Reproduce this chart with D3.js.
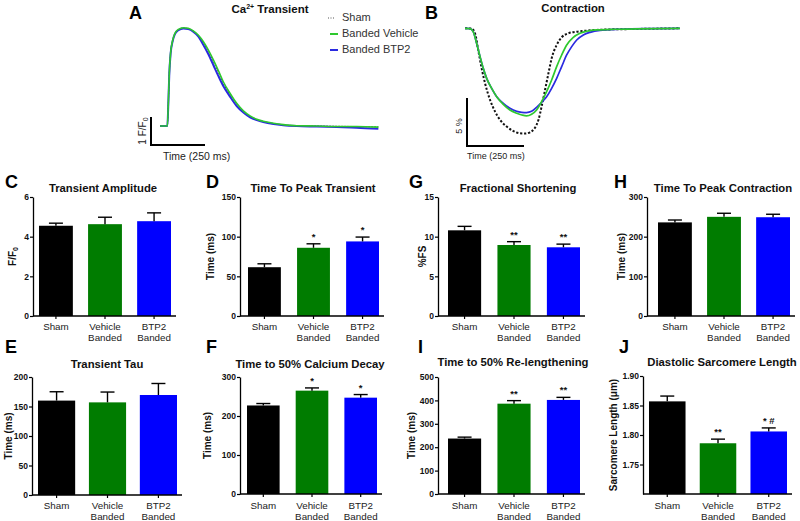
<!DOCTYPE html>
<html><head><meta charset="utf-8">
<script src="https://cdn.jsdelivr.net/npm/d3@7"></script>
<style>
body{margin:0;background:#fff}
svg{display:block}
text{font-family:"Liberation Sans",Arial,Helvetica,sans-serif}
</style>
</head><body>
<svg id="chart" width="800" height="521"></svg>
<script>
// ---------------- DATA ----------------
const groups = ["Sham", "Vehicle", "BTP2"];
const groupSub = ["", "Banded", "Banded"];
const barColors = ["#000000", "#007c00", "#0000ff"];

// C Transient Amplitude (F/F0)
const ampMean = [4.55, 4.63, 4.78];
const ampSem  = [0.13, 0.35, 0.42];
const ampTicks = [0, 2, 4, 6];
const ampNotes = ["", "", ""];
// D Time To Peak Transient (ms)
const ttpMean = [61.5, 86, 94];
const ttpSem  = [4.3, 5, 5.5];
const ttpTicks = [0, 50, 100, 150];
const ttpNotes = ["", "*", "*"];
// G Fractional Shortening (%FS)
const fsMean = [10.8, 8.95, 8.66];
const fsSem  = [0.5, 0.42, 0.4];
const fsTicks = [0, 5, 10, 15];
const fsNotes = ["", "**", "**"];
// H Time To Peak Contraction (ms)
const ttpcMean = [236, 250, 249];
const ttpcSem  = [6, 9, 7.5];
const ttpcTicks = [0, 100, 200, 300];
const ttpcNotes = ["", "", ""];
// E Transient Tau (ms)
const tauMean = [160, 157, 169.5];
const tauSem  = [15, 17.5, 19.5];
const tauTicks = [0, 50, 100, 150, 200];
const tauNotes = ["", "", ""];
// F Time to 50% Calcium Decay (ms)
const decMean = [227, 265, 247];
const decSem  = [5, 7, 8];
const decTicks = [0, 100, 200, 300];
const decNotes = ["", "*", "*"];
// I Time to 50% Re-lengthening (ms)
const relMean = [237, 386, 402];
const relSem  = [6, 13, 11];
const relTicks = [0, 100, 200, 300, 400, 500];
const relNotes = ["", "**", "**"];
// J Diastolic Sarcomere Length (um)
const slMean = [1.857, 1.786, 1.806];
const slSem  = [0.009, 0.007, 0.006];
const slTicks = [1.75, 1.80, 1.85, 1.90];
const slNotes = ["", "**", "* #"];

// A Ca2+ transient traces (time ms, F/F0)
const caTime    = [0,31,34,39,43,49,59,69,85,108,131,154,177,201,224,247,270,293,324,355,386,417,448,478,525,571,633,725,818,910,1011];
const caSham    = [1,1,1,1.90,2.86,3.58,4.05,4.30,4.44,4.50,4.48,4.39,4.23,3.97,3.66,3.30,2.92,2.52,2.12,1.77,1.51,1.34,1.23,1.16,1.09,1.04,1.01,1.00,0.99,0.98,0.97];
const caVehicle = [1,1,1,1.93,2.88,3.60,4.07,4.31,4.45,4.51,4.49,4.40,4.25,4.01,3.71,3.36,2.98,2.58,2.17,1.81,1.54,1.36,1.24,1.17,1.10,1.05,1.01,1.00,0.98,0.98,0.96];
const caBTP2    = [1,1,1,1.90,2.85,3.57,4.04,4.28,4.42,4.48,4.46,4.37,4.20,3.89,3.56,3.18,2.79,2.43,2.05,1.71,1.48,1.31,1.21,1.14,1.07,1.03,1.00,0.98,0.96,0.94,0.90];

// B Contraction traces (time ms, % shortening)
const ctShamT = [0,29,44,58,73,88,110,132,154,183,212,241,263,285,307,322,336,351,366,380,402,424,453,490,534,607,754,943];
const ctSham  = [0,-0.03,-0.52,-2.26,-4.17,-5.73,-7.47,-8.68,-9.55,-10.24,-10.70,-10.94,-10.97,-10.83,-10.35,-9.55,-8.16,-6.43,-4.69,-3.13,-1.74,-0.94,-0.52,-0.35,-0.24,-0.14,-0.07,0];
const ctVehT  = [0,22,36,51,66,80,95,117,139,168,197,227,249,270,292,314,336,358,380,402,424,446,475,504,534,577,651,754,943];
const ctVeh   = [0,-0.03,-0.35,-1.56,-2.95,-4.17,-5.21,-6.25,-7.12,-7.92,-8.51,-8.85,-9.03,-9.13,-8.96,-8.51,-7.64,-6.60,-5.38,-3.99,-2.78,-1.74,-0.94,-0.52,-0.31,-0.17,-0.10,-0.07,0];
const ctBtpT  = [0,22,36,51,66,80,95,117,139,168,197,227,249,270,292,314,336,358,380,402,424,446,468,490,519,548,592,680,826,943];
const ctBtp   = [0,-0.03,-0.35,-1.56,-2.95,-4.17,-5.21,-6.25,-7.12,-7.81,-8.33,-8.65,-8.75,-8.78,-8.65,-8.23,-7.71,-7.12,-6.25,-5.21,-3.99,-2.78,-1.91,-1.22,-0.70,-0.42,-0.21,-0.10,-0.03,0];

const legendLabels = ["Sham", "Banded Vehicle", "Banded BTP2"];

// ---------------- DRAW ----------------
const svg = d3.select("#chart");
const FONT = '"Liberation Sans",Arial,sans-serif';

function letter(t, x, y) {
  svg.append("text").attr("x", x).attr("y", y).attr("font-size", 18).attr("font-weight", "bold").text(t);
}

function barPanel(p, means, sems, ticks, notes) {
  const g = svg.append("g");
  const y = d3.scaleLinear().domain(p.domain).range([p.yB, p.yT]);
  const x = d3.scaleBand().domain(groups).range([p.a, p.b]).paddingInner(p.pad).paddingOuter(0);
  g.selectAll("rect.bar").data(groups).join("rect")
    .attr("x", d => x(d)).attr("width", x.bandwidth())
    .attr("y", (d, i) => y(means[i])).attr("height", (d, i) => p.yB - y(means[i]))
    .attr("fill", (d, i) => barColors[i]);
  groups.forEach((d, i) => {
    const cx = x(d) + x.bandwidth() / 2;
    const eTop = y(means[i] + sems[i]);
    g.append("line").attr("x1", cx).attr("x2", cx).attr("y1", y(means[i])).attr("y2", eTop)
      .attr("stroke", "#000").attr("stroke-width", 1.4);
    g.append("line").attr("x1", cx - 7).attr("x2", cx + 7).attr("y1", eTop).attr("y2", eTop)
      .attr("stroke", "#000").attr("stroke-width", 1.4);
    if (notes[i]) {
      g.append("text").attr("x", cx).attr("y", eTop - 4).attr("text-anchor", "middle")
        .attr("font-size", 9.5).attr("font-weight", "bold").attr("fill", "#111").text(notes[i]);
    }
  });
  const ya = g.append("g").attr("transform", `translate(${p.axisX},0)`)
    .call(d3.axisLeft(y).tickValues(ticks).tickSize(3).tickSizeOuter(0).tickFormat(p.fmt));
  ya.select(".domain").attr("stroke", "#000").attr("stroke-width", 1.3);
  ya.selectAll(".tick line").attr("stroke", "#000").attr("stroke-width", 1.2);
  ya.selectAll(".tick text").attr("font-size", 8.5).attr("font-weight", "bold").attr("font-family", FONT).attr("fill", "#111").attr("x", -4);
  const xa = g.append("g").attr("transform", `translate(0,${p.yB})`)
    .call(d3.axisBottom(x).tickSize(3).tickSizeOuter(0).tickFormat(""));
  xa.select(".domain").remove();
  xa.selectAll(".tick line").attr("stroke", "#000").attr("stroke-width", 1.2);
  g.append("line").attr("x1", p.axisX).attr("x2", p.b + 5).attr("y1", p.yB).attr("y2", p.yB)
    .attr("stroke", "#000").attr("stroke-width", 1.3);
  groups.forEach((d, i) => {
    const cx = x(d) + x.bandwidth() / 2;
    g.append("text").attr("x", cx).attr("y", p.lab1).attr("text-anchor", "middle")
      .attr("font-size", 9.8).attr("fill", "#222").text(d);
    if (groupSub[i]) g.append("text").attr("x", cx).attr("y", p.lab1 + 11).attr("text-anchor", "middle")
      .attr("font-size", 9.8).attr("fill", "#222").text(groupSub[i]);
  });
  g.append("text").attr("x", p.tx).attr("y", p.ty).attr("text-anchor", "middle")
    .attr("font-size", 11.3).attr("font-weight", "bold").attr("fill", "#111").text(p.title);
  const yl = g.append("text").attr("transform", `translate(${p.lx},${(p.yT + p.yB) / 2}) rotate(-90)`)
    .attr("text-anchor", "middle").attr("dominant-baseline", "middle")
    .attr("font-size", 10).attr("font-weight", "bold").attr("fill", "#111");
  if (p.ylabelSub) {
    yl.append("tspan").text(p.ylabel);
    yl.append("tspan").attr("font-size", 7).attr("dy", 3).text(p.ylabelSub);
  } else yl.text(p.ylabel);
  letter(p.letter, p.lxL, p.lyL);
}

const fmtInt = d3.format("d");
const rowTop = {yT: 197, yB: 316, lab1: 330, ty: 192, lyL: 188};
const rowBot = {yT: 377, yB: 494, lab1: 509, ty: 368, lyL: 353};

barPanel(Object.assign({}, rowTop, {axisX: 33, a: 39, b: 171, pad: 0.31, domain: [0, 6], fmt: fmtInt,
  title: "Transient Amplitude", tx: 103, ylabel: "F/F", ylabelSub: "0", lx: 13, letter: "C", lxL: 5}),
  ampMean, ampSem, ampTicks, ampNotes);
barPanel(Object.assign({}, rowTop, {axisX: 240, a: 248, b: 379, pad: 0.33, domain: [0, 150], fmt: fmtInt,
  title: "Time To Peak Transient", tx: 313, ylabel: "Time (ms)", lx: 211, letter: "D", lxL: 206}),
  ttpMean, ttpSem, ttpTicks, ttpNotes);
barPanel(Object.assign({}, rowTop, {axisX: 438, a: 448, b: 580, pad: 0.33, domain: [0, 15], fmt: fmtInt,
  title: "Fractional Shortening", tx: 518, ylabel: "%FS", lx: 423, letter: "G", lxL: 409}),
  fsMean, fsSem, fsTicks, fsNotes);
barPanel(Object.assign({}, rowTop, {axisX: 647, a: 658, b: 790, pad: 0.31, domain: [0, 300], fmt: fmtInt,
  title: "Time To Peak Contraction", tx: 723, ylabel: "Time (ms)", lx: 622, letter: "H", lxL: 614}),
  ttpcMean, ttpcSem, ttpcTicks, ttpcNotes);
barPanel(Object.assign({}, rowBot, {axisX: 32, a: 38, b: 177, yB: 495, pad: 0.27, domain: [0, 200], fmt: fmtInt,
  title: "Transient Tau", tx: 107, ylabel: "Time (ms)", lx: 9, letter: "E", lxL: 5}),
  tauMean, tauSem, tauTicks, tauNotes);
barPanel(Object.assign({}, rowBot, {axisX: 240, a: 247, b: 377, pad: 0.33, domain: [0, 300], fmt: fmtInt,
  title: "Time to 50% Calcium Decay", tx: 310, ylabel: "Time (ms)", lx: 208, letter: "F", lxL: 206}),
  decMean, decSem, decTicks, decNotes);
barPanel(Object.assign({}, rowBot, {axisX: 438, a: 448, b: 580, pad: 0.33, ty: 366, domain: [0, 500], fmt: fmtInt,
  title: "Time to 50% Re-lengthening", tx: 513, ylabel: "Time (ms)", lx: 412, letter: "I", lxL: 418}),
  relMean, relSem, relTicks, relNotes);
barPanel(Object.assign({}, rowBot, {axisX: 643, a: 649, b: 787, yT: 376, pad: 0.28, ty: 366, domain: [1.70, 1.90], fmt: d3.format(".2f"),
  title: "Diastolic Sarcomere Length", tx: 722, ylabel: "Sarcomere Length (μm)", lx: 614, letter: "J", lxL: 619}),
  slMean, slSem, slTicks, slNotes);

// ---------- Panel A ----------
{
  const x = d3.scaleLinear().domain([0, 1000]).range([160, 376]);
  const y = d3.scaleLinear().domain([1, 2]).range([126, 98]);
  const line = d3.line().x(d => x(d[0])).y(d => y(d[1])).curve(d3.curveMonotoneX);
  const g = svg.append("g");
  g.append("path").datum(caTime.map((t, i) => [t, caSham[i]])).attr("d", line)
    .attr("fill", "none").attr("stroke", "#333").attr("stroke-width", 1).attr("stroke-dasharray", "1.5,1.5");
  g.append("path").datum(caTime.map((t, i) => [t, caBTP2[i]])).attr("d", line)
    .attr("fill", "none").attr("stroke", "#2a2ae0").attr("stroke-width", 2);
  g.append("path").datum(caTime.map((t, i) => [t, caVehicle[i]])).attr("d", line)
    .attr("fill", "none").attr("stroke", "#2ec82e").attr("stroke-width", 1.6);
  const sx = 151, sy = 145;
  g.append("path").attr("d", `M${sx},${sy - (y(1) - y(2))}V${sy}H${sx + x(250) - x(0)}`)
    .attr("fill", "none").attr("stroke", "#000").attr("stroke-width", 2);
  const vl = g.append("text").attr("transform", `translate(${sx - 5},${sy - 14}) rotate(-90)`)
    .attr("text-anchor", "middle").attr("font-size", 10).attr("fill", "#222");
  vl.append("tspan").text("1 F/F");
  vl.append("tspan").attr("font-size", 7).attr("dy", 2).text("0");
  g.append("text").attr("x", 163).attr("y", 160).attr("font-size", 10.5).attr("fill", "#222").text("Time (250 ms)");
  const tt = g.append("text").attr("x", 270).attr("y", 13).attr("text-anchor", "middle")
    .attr("font-size", 11.5).attr("font-weight", "bold").attr("fill", "#111");
  tt.append("tspan").text("Ca");
  tt.append("tspan").attr("font-size", 7).attr("dy", -4).text("2+");
  tt.append("tspan").attr("dy", 4).text(" Transient");
  letter("A", 129, 19);
  const ly = [18, 34, 50];
  const lstyle = [{c: "#555", w: 1, da: "1,1.5", x1: 328, x2: 334},
                  {c: "#2ec82e", w: 2, da: null, x1: 330, x2: 338},
                  {c: "#2a2ae0", w: 2, da: null, x1: 330, x2: 338}];
  legendLabels.forEach((lab, i) => {
    g.append("line").attr("x1", lstyle[i].x1).attr("x2", lstyle[i].x2).attr("y1", ly[i]).attr("y2", ly[i])
      .attr("stroke", lstyle[i].c).attr("stroke-width", lstyle[i].w).attr("stroke-dasharray", lstyle[i].da);
    g.append("text").attr("x", 342).attr("y", ly[i]).attr("dominant-baseline", "middle")
      .attr("font-size", 11).attr("fill", "#333").text(lab);
  });
}

// ---------- Panel B ----------
{
  const x = d3.scaleLinear().domain([0, 1000]).range([465, 693]);
  const y = d3.scaleLinear().domain([0, -5]).range([28.3, 76.3]);
  const line = d3.line().x(d => x(d[0])).y(d => y(d[1])).curve(d3.curveMonotoneX);
  const g = svg.append("g");
  g.append("path").datum(ctShamT.map((t, i) => [t, ctSham[i]])).attr("d", line)
    .attr("fill", "none").attr("stroke", "#111").attr("stroke-width", 2).attr("stroke-dasharray", "2.2,1.8");
  g.append("path").datum(ctBtpT.map((t, i) => [t, ctBtp[i]])).attr("d", line)
    .attr("fill", "none").attr("stroke", "#2a2ae0").attr("stroke-width", 1.7);
  g.append("path").datum(ctVehT.map((t, i) => [t, ctVeh[i]])).attr("d", line)
    .attr("fill", "none").attr("stroke", "#2ec82e").attr("stroke-width", 1.7);
  const sx = 467, sy = 146;
  g.append("path").attr("d", `M${sx},${sy - (y(-5) - y(0))}V${sy}H${sx + x(250) - x(0)}`)
    .attr("fill", "none").attr("stroke", "#000").attr("stroke-width", 2);
  g.append("text").attr("transform", `translate(${sx - 5},${sy - 20}) rotate(-90)`)
    .attr("text-anchor", "middle").attr("font-size", 9).attr("fill", "#222").text("5 %");
  g.append("text").attr("x", 467).attr("y", 159).attr("font-size", 9).attr("fill", "#222").text("Time (250 ms)");
  g.append("text").attr("x", 573).attr("y", 12).attr("text-anchor", "middle")
    .attr("font-size", 11.3).attr("font-weight", "bold").attr("fill", "#111").text("Contraction");
  letter("B", 425, 19);
}
</script>
</body></html>
